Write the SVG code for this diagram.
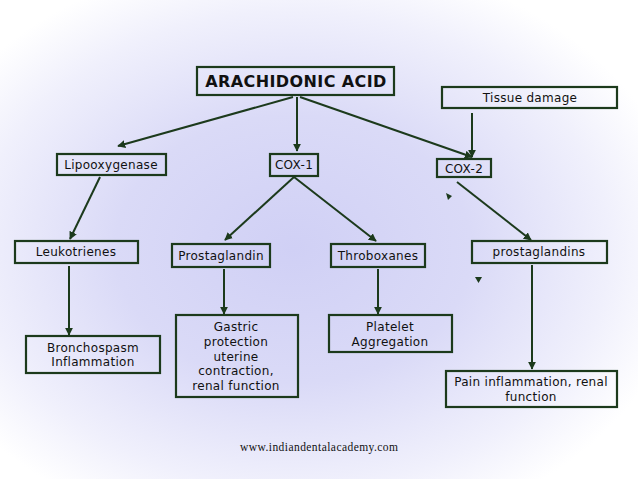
<svg xmlns="http://www.w3.org/2000/svg" width="638" height="479" viewBox="0 0 638 479">
<defs>
<radialGradient id="bg" cx="0.46" cy="0.52" r="0.62">
<stop offset="0" stop-color="#d0d0f5"/>
<stop offset="0.45" stop-color="#dadaf7"/>
<stop offset="0.8" stop-color="#f0f0fc"/>
<stop offset="1" stop-color="#ffffff"/>
</radialGradient>
<marker id="ah" viewBox="0 0 10 10" refX="9" refY="5" markerWidth="4" markerHeight="4" orient="auto" markerUnits="strokeWidth">
<path d="M0,0 L10,5 L0,10 z" fill="#1c3a1c"/>
</marker>
<style>
.box{fill:none;stroke:#1c3a1c;stroke-width:2.2}
.t{font-family:"DejaVu Sans",Verdana,sans-serif;font-size:12px;letter-spacing:0.3px;fill:#111;text-anchor:middle}
.tb{font-family:"DejaVu Sans",Verdana,sans-serif;font-size:16px;letter-spacing:0.4px;font-weight:bold;fill:#111;text-anchor:middle}
.c{fill:none;stroke:#1c3a1c;stroke-width:2;marker-end:url(#ah)}
</style>
</defs>
<rect x="0" y="0" width="638" height="479" fill="url(#bg)"/>

<g id="connectors">
<line class="c" x1="293" y1="97" x2="118" y2="146"/>
<line class="c" x1="297" y1="97" x2="297" y2="151"/>
<line class="c" x1="300" y1="97" x2="472" y2="157"/>
<line class="c" x1="472" y1="113" x2="472" y2="157"/>
<line class="c" x1="100" y1="177" x2="70" y2="239"/>
<line class="c" x1="69" y1="266" x2="69" y2="335"/>
<line class="c" x1="294" y1="177" x2="225" y2="240"/>
<line class="c" x1="294" y1="177" x2="376" y2="241"/>
<line class="c" x1="224" y1="269" x2="224" y2="314"/>
<line class="c" x1="378" y1="269" x2="378" y2="314"/>
<line class="c" x1="457" y1="182" x2="531" y2="240"/>
<line class="c" x1="532" y1="265" x2="532" y2="369"/>
<path d="M446,193 L452,196 L448,200 z" fill="#1c3a1c"/>
<path d="M475,277 L482,277 L478.5,283 z" fill="#1c3a1c"/>
</g>

<g id="arachidonic">
<rect class="box" x="197" y="67" width="197" height="28"/>
<text class="tb" x="296" y="87">ARACHIDONIC ACID</text>
</g>
<g id="tissue">
<rect class="box" x="442" y="87" width="175" height="21"/>
<text class="t" x="530" y="102">Tissue damage</text>
</g>
<g id="lipooxygenase">
<rect class="box" x="57" y="154" width="109" height="21"/>
<text class="t" x="111" y="169">Lipooxygenase</text>
</g>
<g id="cox1">
<rect class="box" x="270" y="154" width="48" height="22"/>
<text class="t" x="294" y="169">COX-1</text>
</g>
<g id="cox2">
<rect class="box" x="437" y="159" width="54" height="18"/>
<text class="t" x="464" y="173">COX-2</text>
</g>
<g id="leukotrienes">
<rect class="box" x="15" y="241" width="123" height="22"/>
<text class="t" x="76" y="256">Leukotrienes</text>
</g>
<g id="prostaglandin">
<rect class="box" x="172" y="244" width="98" height="23"/>
<text class="t" x="221" y="260">Prostaglandin</text>
</g>
<g id="throboxanes">
<rect class="box" x="331" y="244" width="94" height="23"/>
<text class="t" x="378" y="260">Throboxanes</text>
</g>
<g id="prostaglandins">
<rect class="box" x="472" y="241" width="135" height="22"/>
<text class="t" x="539" y="256">prostaglandins</text>
</g>
<g id="bronchospasm">
<rect class="box" x="26" y="336" width="134" height="37"/>
<text class="t" x="93" y="352">Bronchospasm</text>
<text class="t" x="93" y="366">Inflammation</text>
</g>
<g id="gastric">
<rect class="box" x="176" y="315" width="122" height="82"/>
<text class="t" x="236" y="331">Gastric</text>
<text class="t" x="236" y="346">protection</text>
<text class="t" x="236" y="361">uterine</text>
<text class="t" x="236" y="375">contraction,</text>
<text class="t" x="236" y="390">renal function</text>
</g>
<g id="platelet">
<rect class="box" x="329" y="315" width="123" height="37"/>
<text class="t" x="390" y="331">Platelet</text>
<text class="t" x="390" y="346">Aggregation</text>
</g>
<g id="pain">
<rect class="box" x="446" y="371" width="171" height="36"/>
<text class="t" x="531" y="386">Pain inflammation, renal</text>
<text class="t" x="531" y="401">function</text>
</g>
<text x="319" y="451" font-family="'Liberation Serif','Times New Roman',serif" font-size="11.5" fill="#111" text-anchor="middle" textLength="158">www.indiandentalacademy.com</text>
</svg>
